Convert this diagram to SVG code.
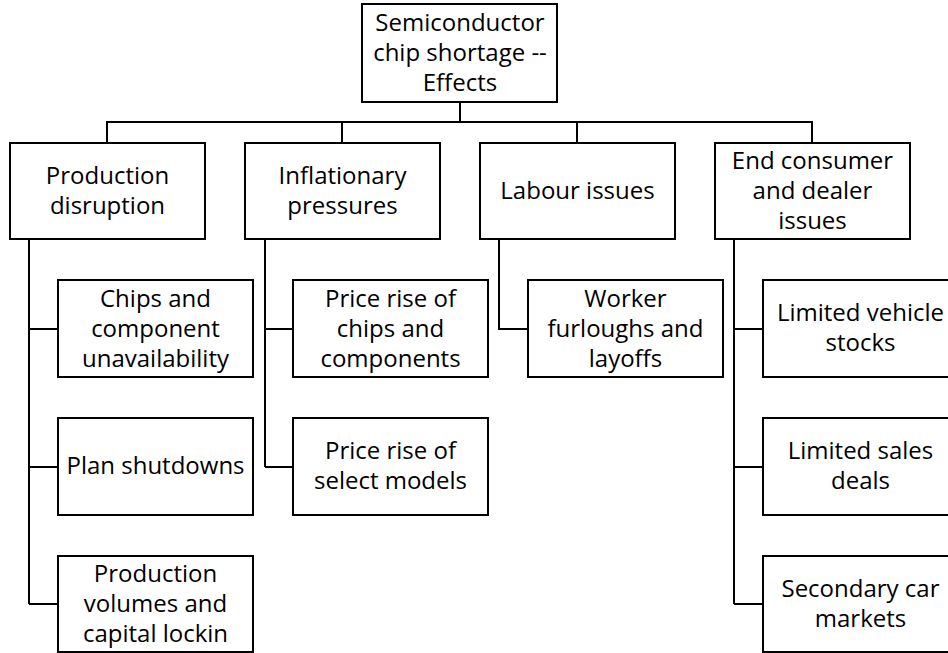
<svg xmlns="http://www.w3.org/2000/svg" width="948" height="653" viewBox="0 0 948 653">
<style>
rect.box{fill:#fff;stroke:#000;stroke-width:2}
text{font-family:"Open Sans","Noto Sans",sans-serif;font-size:24px;fill:#000;text-anchor:middle}
.conn path{fill:none;stroke:#000;stroke-width:2}
</style>
<rect width="948" height="653" fill="#fff"/>
<g class="conn" id="connectors">
<path d="M460 102 V122 M107 143 V122 H812 V143 M342 122 V143 M577 122 V143"/>
<path d="M29 239 V604 M29 329 H58 M29 467 H58 M29 604 H58"/>
<path d="M265 239 V467 M265 329 H293 M265 467 H293"/>
<path d="M499 239 V329 H528"/>
<path d="M734 239 V604 M734 329 H763 M734 467 H763 M734 604 H763"/>
</g>
<g id="root"><rect class="box" x="362" y="4" width="195" height="98"/><text x="460" y="31">Semiconductor</text><text x="460" y="61">chip shortage --</text><text x="460" y="91">Effects</text></g>
<g id="production"><rect class="box" x="10" y="143" width="195" height="96"/><text x="107.5" y="184">Production</text><text x="107.5" y="214">disruption</text></g>
<g id="inflation"><rect class="box" x="245" y="143" width="195" height="96"/><text x="342.5" y="184">Inflationary</text><text x="342.5" y="214">pressures</text></g>
<g id="labour"><rect class="box" x="480" y="143" width="195" height="96"/><text x="577.5" y="199">Labour issues</text></g>
<g id="consumer"><rect class="box" x="715" y="143" width="195" height="96"/><text x="812.5" y="169">End consumer</text><text x="812.5" y="199">and dealer</text><text x="812.5" y="229">issues</text></g>
<g id="chips"><rect class="box" x="58" y="280" width="195" height="97"/><text x="155.5" y="307">Chips and</text><text x="155.5" y="337">component</text><text x="155.5" y="367">unavailability</text></g>
<g id="shutdowns"><rect class="box" x="58" y="418" width="195" height="97"/><text x="155.5" y="474">Plan shutdowns</text></g>
<g id="volumes"><rect class="box" x="58" y="556" width="195" height="96"/><text x="155.5" y="582">Production</text><text x="155.5" y="612">volumes and</text><text x="155.5" y="642">capital lockin</text></g>
<g id="price-chips"><rect class="box" x="293" y="280" width="195" height="97"/><text x="390.5" y="307">Price rise of</text><text x="390.5" y="337">chips and</text><text x="390.5" y="367">components</text></g>
<g id="price-models"><rect class="box" x="293" y="418" width="195" height="97"/><text x="390.5" y="459">Price rise of</text><text x="390.5" y="489">select models</text></g>
<g id="worker"><rect class="box" x="528" y="280" width="195" height="97"/><text x="625.5" y="307">Worker</text><text x="625.5" y="337">furloughs and</text><text x="625.5" y="367">layoffs</text></g>
<g id="vehicle-stocks"><rect class="box" x="763" y="280" width="195" height="97"/><text x="860.5" y="321">Limited vehicle</text><text x="860.5" y="351">stocks</text></g>
<g id="sales-deals"><rect class="box" x="763" y="418" width="195" height="97"/><text x="860.5" y="459">Limited sales</text><text x="860.5" y="489">deals</text></g>
<g id="secondary"><rect class="box" x="763" y="556" width="195" height="96"/><text x="860.5" y="597">Secondary car</text><text x="860.5" y="627">markets</text></g>
</svg>
